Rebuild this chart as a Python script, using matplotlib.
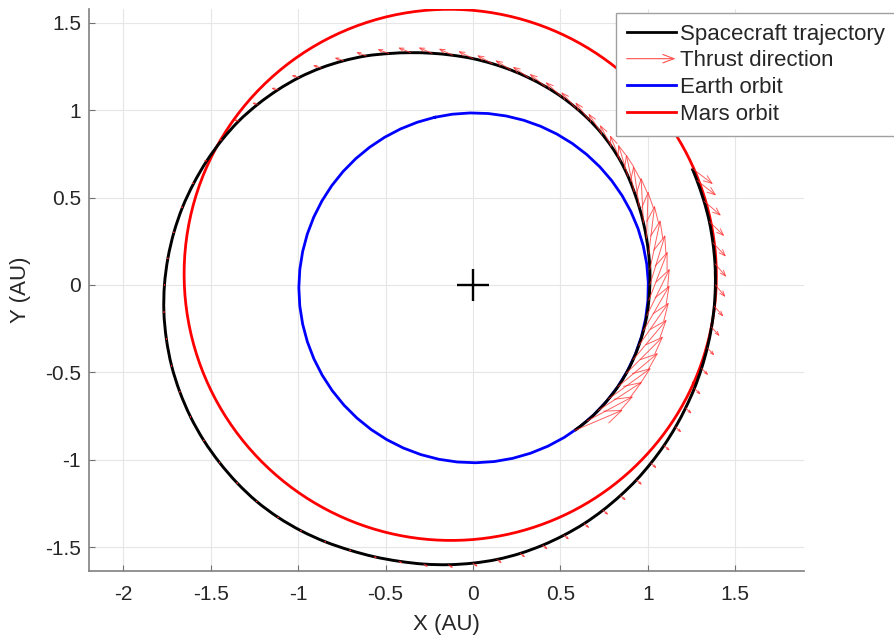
import numpy as np
import matplotlib
matplotlib.use("Agg")
import matplotlib.pyplot as plt
from matplotlib.patches import FancyArrowPatch, ArrowStyle, PathPatch
from matplotlib.path import Path
from matplotlib.legend_handler import HandlerBase
from matplotlib.lines import Line2D

plt.rcParams['font.family'] = ['Liberation Sans', 'DejaVu Sans']
plt.rcParams['axes.unicode_minus'] = False

# ---------------- data ----------------
# spacecraft trajectory: polar angle (deg) and heliocentric distance (AU)
traj_theta = [-55, -50, -45, -40, -35, -30, -25, -20, -15, -10, -5, 0, 5, 10, 15, 20,
              25, 30, 35, 40, 45, 50, 55, 60, 65, 70, 75, 80, 85, 90, 95, 100, 105,
              110, 115, 120, 125, 130, 135, 140, 145, 150, 155, 160, 165, 170, 175,
              180, 185, 190, 195, 200, 205, 210, 215, 220, 225, 230, 235, 240, 245,
              250, 255, 260, 265, 270, 275, 280, 285, 290, 295, 300, 305, 310, 315,
              320, 325, 330, 335, 340, 345, 350, 355, 360, 365, 370, 375, 380, 385, 388]
traj_r = [1.015, 1.015, 1.014, 1.013, 1.013, 1.012, 1.011, 1.010, 1.010, 1.010, 1.010,
          1.012, 1.016, 1.021, 1.028, 1.038, 1.050, 1.065, 1.083, 1.102, 1.120, 1.138,
          1.155, 1.172, 1.190, 1.208, 1.227, 1.248, 1.270, 1.294, 1.318, 1.345, 1.375,
          1.408, 1.445, 1.480, 1.515, 1.548, 1.578, 1.607, 1.635, 1.658, 1.680, 1.700,
          1.720, 1.737, 1.752, 1.765, 1.775, 1.781, 1.785, 1.785, 1.783, 1.778, 1.770,
          1.761, 1.750, 1.734, 1.715, 1.694, 1.672, 1.653, 1.635, 1.620, 1.605, 1.590,
          1.575, 1.558, 1.540, 1.522, 1.505, 1.487, 1.470, 1.455, 1.440, 1.427, 1.415,
          1.405, 1.398, 1.392, 1.388, 1.386, 1.386, 1.387, 1.390, 1.394, 1.400, 1.406,
          1.414, 1.420]
# thrust vector at each trajectory node: length (AU in plot) and direction (deg)
thrust_len = [0.30, 0.30, 0.30, 0.30, 0.30, 0.30, 0.30, 0.30, 0.30, 0.30, 0.30,
              0.30, 0.29, 0.28, 0.27, 0.26, 0.24, 0.22, 0.19, 0.16, 0.14, 0.13,
              0.125, 0.12, 0.12, 0.115, 0.11, 0.105, 0.10, 0.095, 0.09, 0.085, 0.078,
              0.07, 0.062, 0.055, 0.05, 0.045, 0.04, 0.034, 0.028, 0.023, 0.019, 0.016,
              0.013, 0.011, 0.009, 0.008, 0.008, 0.008, 0.008, 0.008, 0.008, 0.008, 0.008,
              0.008, 0.008, 0.008, 0.008, 0.012, 0.016, 0.02, 0.025, 0.03, 0.033, 0.035,
              0.036, 0.037, 0.038, 0.039, 0.04, 0.041, 0.042, 0.043, 0.044, 0.045, 0.046,
              0.048, 0.051, 0.055, 0.06, 0.07, 0.08, 0.09, 0.10, 0.11, 0.12, 0.13,
              0.14, 0.15]
thrust_dir = [23, 28, 33, 36, 40, 45, 50, 55, 60, 64, 69, 73, 78, 83, 88, 93, 98, 102,
              107, 112, 118, 123, 128, 133, 137, 141, 145, 148, 151, 153, 155, 157, 158,
              159, 160, 161, 162, 163, 165, 167, 170, 173, 176, 180, 185, 190, 200, 210,
              220, 235, 250, 265, 280, 295, 310, 320, 328, 333, 336, 338, 336, 333, 330,
              327, 325, 324, 323, 322, 321, 320, 320, 320, 320, 319, 318, 318, 317, 316,
              315, 314, 313, 312, 311, 310, 311, 313, 316, 319, 322, 323]

# planetary orbits: semi-major axis (AU), eccentricity, longitude of perihelion (deg)
earth_elements = (1.0, 0.0167, 102.9)
mars_elements = (1.5237, 0.0934, 336.0)
earth_samples = 61
mars_samples = 361

x_ticks = [-2, -1.5, -1, -0.5, 0, 0.5, 1, 1.5]
y_ticks = [-1.5, -1, -0.5, 0, 0.5, 1, 1.5]
labels = ['Spacecraft trajectory', 'Thrust direction', 'Earth orbit', 'Mars orbit']

# ---------------- figure ----------------
W, H = 894, 639
fig = plt.figure(figsize=(W / 100, H / 100), dpi=100)
ax_l, ax_r, ax_t, ax_b = 89.3, 804.0, 9.3, 571.0
ax = fig.add_axes([ax_l / W, 1 - ax_b / H, (ax_r - ax_l) / W, (ax_b - ax_t) / H])


def orbit_xy(elements, n):
    a, e, w = elements
    nu = np.linspace(0, 2 * np.pi, n)
    r = a * (1 - e ** 2) / (1 + e * np.cos(nu))
    ang = nu + np.deg2rad(w)
    return r * np.cos(ang), r * np.sin(ang)


def smooth_path(x, y):
    """Cubic Bezier path passing through every data point (Catmull-Rom tangents)."""
    P = np.column_stack([x, y])
    n = len(P)
    Pm = np.vstack([P[0], P, P[-1]])
    verts = [P[0]]
    codes = [Path.MOVETO]
    for i in range(n - 1):
        p0, p1, p2, p3 = Pm[i], Pm[i + 1], Pm[i + 2], Pm[i + 3]
        c1 = p1 + (p2 - p0) / 6.0
        c2 = p2 - (p3 - p1) / 6.0
        verts += [c1, c2, p2]
        codes += [Path.CURVE4] * 3
    return Path(np.array(verts), codes)


ex, ey = orbit_xy(earth_elements, earth_samples)
mx, my = orbit_xy(mars_elements, mars_samples)
th = np.deg2rad(np.array(traj_theta, dtype=float))
tr = np.array(traj_r)
tx, ty = tr * np.cos(th), tr * np.sin(th)

mars_line, = ax.plot(mx, my, color='#ff0000', lw=2.0, zorder=3)
earth_line, = ax.plot(ex, ey, color='#0000ff', lw=2.0, zorder=3)
ax.add_patch(PathPatch(smooth_path(tx, ty), facecolor='none', edgecolor='black',
                       lw=2.1, zorder=4, capstyle='butt'))
traj_line = Line2D([], [], color='black', lw=2.0)

arrow_color = '#ff2a2a'
td = np.deg2rad(np.array(thrust_dir, dtype=float))
tl = np.array(thrust_len)
px_per_au = (ax_r - ax_l) / (1.894 + 2.195)
for x0, y0, L, d in zip(tx, ty, tl, td):
    hl = max(L * px_per_au * 0.32 * 0.72, 0.3)
    arr = FancyArrowPatch((x0, y0), (x0 + L * np.cos(d), y0 + L * np.sin(d)),
                          arrowstyle=ArrowStyle('->', head_length=hl, head_width=0.38 * hl),
                          mutation_scale=1, color=arrow_color, lw=0.7, alpha=0.75,
                          shrinkA=0, shrinkB=0, zorder=5)
    ax.add_patch(arr)

ax.plot([0], [0], marker='+', color='black', markersize=23, mew=1.7,
        linestyle='none', zorder=6)

# ---------------- axes styling ----------------
ax.set_xlim(-2.195, 1.894)
ax.set_ylim(-1.635, 1.576)
ax.set_xticks(x_ticks)
ax.set_yticks(y_ticks)
ax.set_xticklabels([f'{v:g}' for v in x_ticks])
ax.set_yticklabels([f'{v:g}' for v in y_ticks])
txt_color = '#262626'
ax.tick_params(direction='in', length=4, width=0.8, color='#707070',
               labelsize=15, labelcolor=txt_color)
ax.tick_params(axis='y', pad=6)
ax.tick_params(axis='x', pad=10)
for s in ['top', 'right']:
    ax.spines[s].set_visible(False)
for s in ['left', 'bottom']:
    ax.spines[s].set_color('#808080')
    ax.spines[s].set_linewidth(1.2)
ax.grid(True, color='#e6e6e6', lw=0.8, zorder=0)
ax.set_axisbelow(True)
ax.set_xlabel('X (AU)', fontsize=16, color=txt_color, labelpad=7)
ax.set_ylabel('Y (AU)', fontsize=16, color=txt_color, labelpad=10)


class HandlerArrow(HandlerBase):
    def create_artists(self, legend, orig_handle, xdescent, ydescent, width, height,
                       fontsize, trans):
        y = 0.5 * height - ydescent
        p = FancyArrowPatch((-xdescent, y), (-xdescent + width, y),
                            arrowstyle=ArrowStyle('->', head_length=8, head_width=3),
                            mutation_scale=1, color='#ff5050', lw=0.8,
                            shrinkA=0, shrinkB=0, transform=trans)
        return [p]


thrust_proxy = Line2D([], [], color=arrow_color)
leg = ax.legend([traj_line, thrust_proxy, earth_line, mars_line], labels,
                loc='upper left', bbox_to_anchor=(0.737, 0.9934), borderaxespad=0,
                fontsize=16, frameon=True, fancybox=False, edgecolor='#a0a0a0',
                framealpha=1, handlelength=2.2, handletextpad=0.2,
                labelspacing=0.26, borderpad=0.48,
                handler_map={thrust_proxy: HandlerArrow()})
leg.get_frame().set_linewidth(1.0)
for t in leg.get_texts():
    t.set_color(txt_color)
leg.set_zorder(10)

fig.savefig('out.png', dpi=100)
